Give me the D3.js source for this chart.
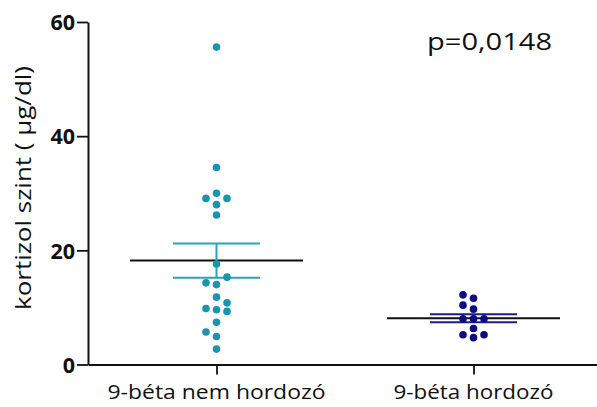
<!DOCTYPE html>
<html>
<head>
<meta charset="utf-8">
<script src="https://cdn.jsdelivr.net/npm/d3@7"></script>
<style>
  html, body { margin: 0; padding: 0; background: #fff; }
  svg { display: block; font-family: "Open Sans", "DejaVu Sans", sans-serif; }
</style>
</head>
<body>
<svg id="chart" width="597" height="407"></svg>
<script>
// ---- data ----
const categories = ["9-béta nem hordozó", "9-béta hordozó"];
const nonCarrierValues = [55.6, 34.5, 30.0, 29.1, 29.1, 28.0, 26.2, 17.6, 14.0, 14.3, 15.3, 11.8, 9.6, 9.8, 9.3, 10.8, 7.4, 4.9, 5.7, 2.7];
const carrierValues = [9.7, 11.6, 12.2, 10.4, 8.0, 8.0, 8.0, 4.7, 5.2, 5.2, 6.3];
const groupMeans = [18.2, 8.1];
const groupSems = [3.0, 0.7];
const yTicks = [0, 20, 40, 60];
const yLabel = "kortizol szint ( µg/dl)";
const pText = "p=0,0148";

// ---- styles / layout ----
const dotColors = ["#1a95b1", "#0c0c80"];
const semColors = ["#27a3bd", "#1c1c8e"];
const svg = d3.select("#chart");

const y = d3.scaleLinear().domain([0, 60]).range([364.5, 22]);
const x = d3.scalePoint().domain(categories).range([88, 602]).padding(0.5);

// axes
const yAxis = svg.append("g").attr("transform", "translate(88,0)")
  .call(d3.axisLeft(y).tickValues(yTicks).tickSize(11).tickSizeOuter(0).tickPadding(2));
yAxis.select(".domain").attr("stroke", "#111").attr("stroke-width", 2);
yAxis.selectAll(".tick line").attr("stroke", "#111").attr("stroke-width", 1.8);
yAxis.selectAll(".tick text").attr("font-family", "'Open Sans', sans-serif")
  .attr("font-size", 21.5).attr("font-weight", "bold").attr("fill", "#111").attr("dy", "0.36em");

const xAxis = svg.append("g").attr("transform", "translate(0," + y(0) + ")")
  .call(d3.axisBottom(x).tickSize(10).tickSizeOuter(0).tickFormat(""));
xAxis.select(".domain").attr("stroke", "#111").attr("stroke-width", 2);
xAxis.selectAll(".tick line").attr("stroke", "#111").attr("stroke-width", 1.8);

// x category labels
svg.append("g").selectAll("text").data(categories).join("text")
  .attr("x", d => x(d)).attr("y", 399)
  .attr("text-anchor", "middle")
  .attr("font-size", 20.5).attr("fill", "#111")
  .attr("textLength", (d, i) => i === 0 ? 218 : 160)
  .attr("lengthAdjust", "spacingAndGlyphs")
  .text(d => d);

// y label
svg.append("text")
  .attr("transform", "translate(31," + 188 + ") rotate(-90)")
  .attr("text-anchor", "middle")
  .attr("font-size", 21).attr("fill", "#111")
  .attr("textLength", 244).attr("lengthAdjust", "spacingAndGlyphs")
  .text(yLabel);

// p value
svg.append("text")
  .attr("x", 427).attr("y", 50)
  .attr("font-size", 24).attr("fill", "#111")
  .attr("textLength", 125).attr("lengthAdjust", "spacingAndGlyphs")
  .text(pText);

// beeswarm layout (greedy, discrete columns)
const colStep = 10.5, minGap = 7.8;
function swarm(values) {
  const placed = [];
  const order = [0, -1, 1, -2, 2, -3, 3];
  values.forEach(v => {
    const py = y(v);
    for (const k of order) {
      if (!placed.some(p => p.k === k && Math.abs(p.py - py) < minGap)) {
        placed.push({ v, py, k });
        break;
      }
    }
  });
  return placed;
}
const groups = [nonCarrierValues, carrierValues];

groups.forEach((vals, gi) => {
  const cx = x(categories[gi]);
  const g = svg.append("g");
  // mean line
  g.append("line").attr("x1", cx - 86.5).attr("x2", cx + 86.5)
    .attr("y1", y(groupMeans[gi])).attr("y2", y(groupMeans[gi]))
    .attr("stroke", "#111").attr("stroke-width", 2);
  // SEM
  const hi = groupMeans[gi] + groupSems[gi], lo = groupMeans[gi] - groupSems[gi];
  [hi, lo].forEach(v => {
    g.append("line").attr("x1", cx - 43.5).attr("x2", cx + 43.5)
      .attr("y1", y(v)).attr("y2", y(v))
      .attr("stroke", semColors[gi]).attr("stroke-width", 2);
  });
  g.append("line").attr("x1", cx).attr("x2", cx)
    .attr("y1", y(hi)).attr("y2", y(lo))
    .attr("stroke", semColors[gi]).attr("stroke-width", 2);
  // dots
  g.selectAll("circle").data(swarm(vals)).join("circle")
    .attr("cx", d => cx + d.k * colStep)
    .attr("cy", d => d.py)
    .attr("r", 3.8)
    .attr("fill", dotColors[gi]);
});
</script>
</body>
</html>
